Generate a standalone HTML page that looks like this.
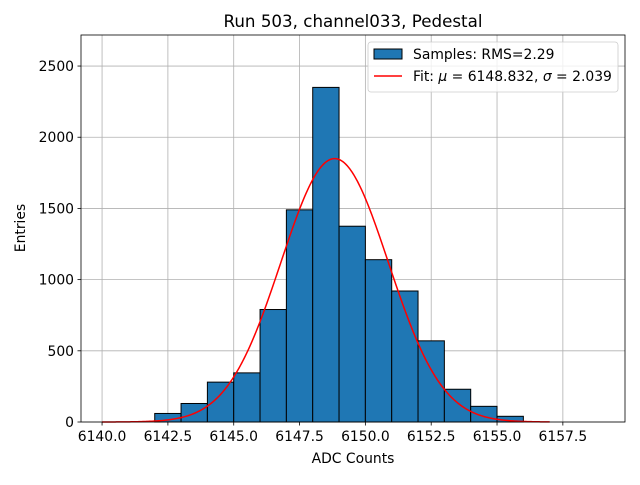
<!DOCTYPE html>
<html><head><meta charset="utf-8"><style>
body{margin:0;background:#fff;font-family:"Liberation Sans","DejaVu Sans",sans-serif;}
svg text{font-family:"DejaVu Sans","Liberation Sans",sans-serif;}
</style></head><body>
<svg id="c" width="640" height="480" xmlns="http://www.w3.org/2000/svg"></svg>
<script>
const binStarts=[6142,6143,6144,6145,6146,6147,6148,6149,6150,6151,6152,6153,6154,6155];
const binCounts=[60,130,280,345,790,1490,2350,1375,1140,920,570,230,110,40];
const fitMu=6148.832, fitSigma=2.039, fitAmp=1850;
const xTicks=[6140,6142.5,6145,6147.5,6150,6152.5,6155,6157.5];
const yTicks=[0,500,1000,1500,2000,2500];
const L=81,R=625,T=35,B=422;
const x0=6139.2,x1=6159.86,y0=0,y1=2718;
const X=v=>L+(v-x0)/(x1-x0)*(R-L);
const Y=v=>B-(v-y0)/(y1-y0)*(B-T);
const svg=document.getElementById('c');
const NS='http://www.w3.org/2000/svg';
function mk(t,a,p){const e=document.createElementNS(NS,t);for(const k in a)e.setAttribute(k,a[k]);(p||svg).appendChild(e);return e;}
mk('rect',{x:0,y:0,width:640,height:480,fill:'#fff'});
xTicks.forEach(v=>{const g=mk('line',{x1:X(v),x2:X(v),y1:T,y2:B,stroke:'#b0b0b0','stroke-width':0.8});
});
yTicks.forEach(v=>{const g=mk('line',{x1:L,x2:R,y1:Y(v),y2:Y(v),stroke:'#b0b0b0','stroke-width':0.8});
});
binStarts.forEach((s,i)=>{const r=mk('rect',{x:X(s),y:Y(binCounts[i]),width:X(s+1)-X(s),height:Y(0)-Y(binCounts[i]),fill:'#1f77b4',stroke:'#000','stroke-width':1});
});
let d='';for(let i=0;i<=340;i++){const v=6140+i*17/340;const f=fitAmp*Math.exp(-0.5*((v-fitMu)/fitSigma)**2);d+=(i?'L':'M')+X(v).toFixed(2)+','+Y(f).toFixed(2);}
const fp=mk('path',{d:d,fill:'none',stroke:'red','stroke-width':1.5});

const fr=mk('rect',{x:L,y:T,width:R-L,height:B-T,fill:'none',stroke:'#000','stroke-width':0.8});

xTicks.forEach(v=>{mk('line',{x1:X(v),x2:X(v),y1:B,y2:B+3.5,stroke:'#000','stroke-width':0.8});
const t=mk('text',{x:X(v),y:B+19,'text-anchor':'middle','font-size':13.9});t.textContent=v.toFixed(1);
});
yTicks.forEach(v=>{mk('line',{x1:L,x2:L-3.5,y1:Y(v),y2:Y(v),stroke:'#000','stroke-width':0.8});
const t=mk('text',{x:L-7,y:Y(v)+5,'text-anchor':'end','font-size':13.9});t.textContent=v;
});
</script>
<svg width="640" height="480" style="position:absolute;left:0;top:0" xmlns="http://www.w3.org/2000/svg">
<text x="353" y="27" text-anchor="middle" font-size="16.7">Run 503, channel033, Pedestal</text>
<text x="353" y="463" text-anchor="middle" font-size="13.9">ADC Counts</text>
<text x="25" y="228" text-anchor="middle" font-size="13.9" transform="rotate(-90 25 228)">Entries</text>
<g>
<rect x="368" y="42" width="250" height="50" rx="3" fill="#fff" fill-opacity="0.8" stroke="#ccc" stroke-width="0.8"/>
<rect x="374" y="49" width="28" height="10" fill="#1f77b4" stroke="#000" stroke-width="1"/>
<text x="413" y="59" font-size="13.9">Samples: RMS=2.29</text>
<line x1="374" x2="402" y1="76" y2="76" stroke="red" stroke-width="1.5"/>
<text x="413" y="81" font-size="13.9">Fit: <tspan font-style="italic">μ</tspan> = 6148.832, <tspan font-style="italic">σ</tspan> = 2.039</text>
</g>
</svg>
</body></html>
